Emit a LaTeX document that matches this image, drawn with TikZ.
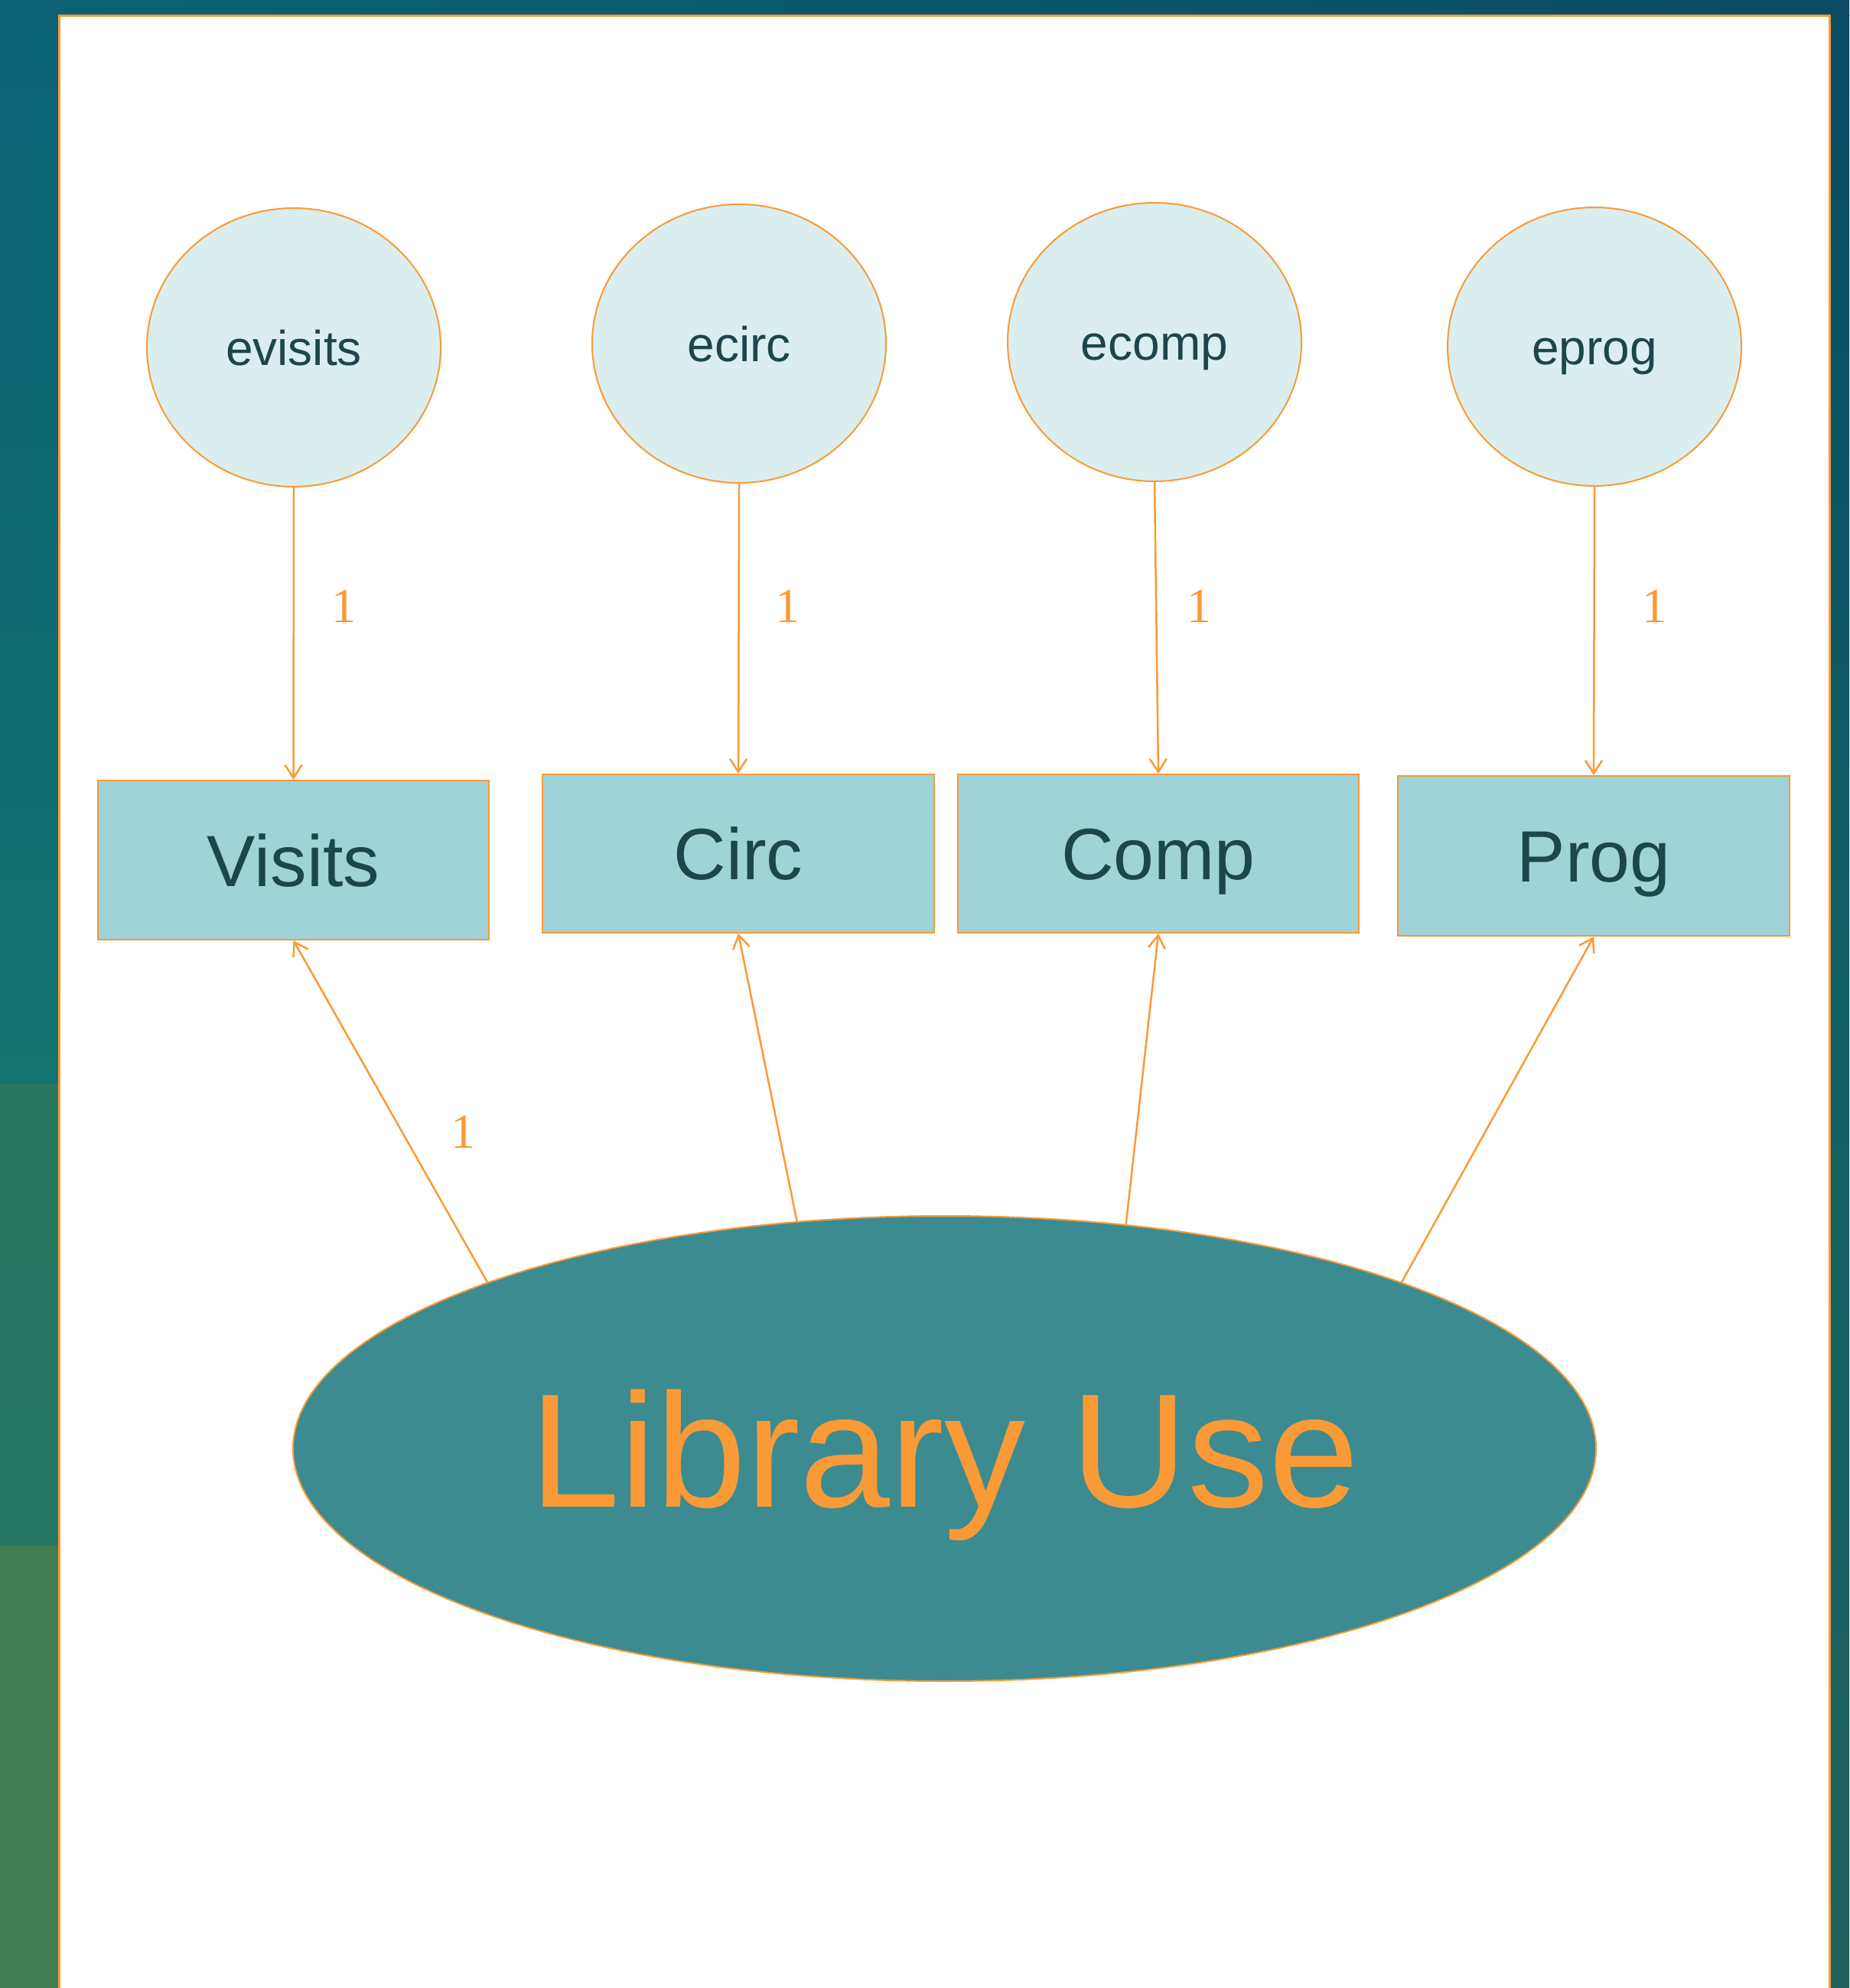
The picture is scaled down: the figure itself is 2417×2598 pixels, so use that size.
\documentclass[tikz,border=0pt]{standalone}
\usepackage{fontspec}
\setmainfont{Liberation Serif}
\setsansfont{Liberation Sans}
\usetikzlibrary{shapes.geometric,arrows.meta}
\definecolor{acc}{HTML}{FA9A36}
\definecolor{txtdark}{HTML}{1D464A}
\definecolor{errfill}{HTML}{DAEEF0}
\definecolor{obsfill}{HTML}{9FD3D7}
\definecolor{latfill}{HTML}{3C8B91}
\definecolor{bgA}{HTML}{0B6174}
\definecolor{bgB}{HTML}{12736F}
\definecolor{bgC}{HTML}{287761}
\definecolor{bgD}{HTML}{427C50}
\definecolor{bgE}{HTML}{0B4C65}
\definecolor{bgF}{HTML}{0F5F66}
\definecolor{bgG}{HTML}{215F5C}
\tikzset{
  errnode/.style={ellipse, draw=acc, line width=2pt, fill=errfill, minimum width=384pt, minimum height=364pt, inner sep=0pt, text=txtdark, font=\sffamily\fontsize{64}{70}\selectfont, text height=46pt, text depth=0pt},
  obsnode/.style={rectangle, draw=acc, line width=2pt, fill=obsfill, inner sep=0pt, text=txtdark, font=\sffamily\fontsize{95}{100}\selectfont, text height=68pt, text depth=0pt},
  latnode/.style={ellipse, draw=acc, line width=2pt, fill=latfill, minimum width=1703pt, minimum height=608pt, inner sep=0pt, text=acc, font=\sffamily\fontsize{212}{220}\selectfont, text height=152pt, text depth=0pt},
  conn/.style={draw=acc, line width=2.5pt, -{Straight Barb[length=17pt,width=22pt,line width=2.5pt]}},
  wlabel/.style={text=acc, font=\rmfamily\fontsize{64}{70}\selectfont, inner sep=0pt}
}
\begin{document}
\begin{tikzpicture}[x=1pt,y=-1pt]
\useasboundingbox (0,0) rectangle (2417,2598);
% background
\shade[top color=bgA, bottom color=bgB] (0,0) rectangle (77,1416);
\shade[top color=bgC, bottom color=bgC!90!bgB] (0,1416) rectangle (77,2020);
\shade[top color=bgD!90!bgC, bottom color=bgD] (0,2020) rectangle (77,2598);
\shade[left color=bgA, right color=bgE] (76,0) rectangle (2417,21);
\shade[top color=bgE, bottom color=bgG, middle color=bgF] (2390,20) rectangle (2417,2598);
% panel
\filldraw[fill=white, draw=acc, line width=3pt] (77,20.5) rectangle (2391.5,2620);
% error terms
\node[errnode] (evisits) at (384,454) {evisits};
\node[errnode] (ecirc) at (966,449) {ecirc};
\node[errnode] (ecomp) at (1509,447) {ecomp};
\node[errnode] (eprog) at (2084,453) {eprog};
% observed
\node[obsnode, minimum width=511pt, minimum height=208pt] (visits) at (383.5,1124) {Visits};
\node[obsnode, minimum width=512pt, minimum height=207pt] (circ) at (965,1115.5) {Circ};
\node[obsnode, minimum width=524pt, minimum height=207pt] (comp) at (1514,1115.5) {Comp};
\node[obsnode, minimum width=512pt, minimum height=209pt] (prog) at (2083,1118.5) {Prog};
% latent
\node[latnode] (lib) at (1234.5,1893) {Library Use};
% connectors
\draw[conn] (evisits.south) -- (visits.north);
\draw[conn] (ecirc.south) -- (circ.north);
\draw[conn] (ecomp.south) -- (comp.north);
\draw[conn] (eprog.south) -- (prog.north);
\draw[conn] (lib.160.3) -- (visits.south);
\draw[conn] (lib.123.2) -- (circ.south);
\draw[conn] (lib.51.5) -- (comp.south);
\draw[conn] (lib.20.5) -- (prog.south);
% labels
\node[wlabel] (l1) at (449,792) {1};
\node[wlabel] (l2) at (1029,792) {1};
\node[wlabel] (l3) at (1567,792) {1};
\node[wlabel] (l4) at (2162,792) {1};
\node[wlabel] (l5) at (605,1479) {1};
\end{tikzpicture}
\end{document}
